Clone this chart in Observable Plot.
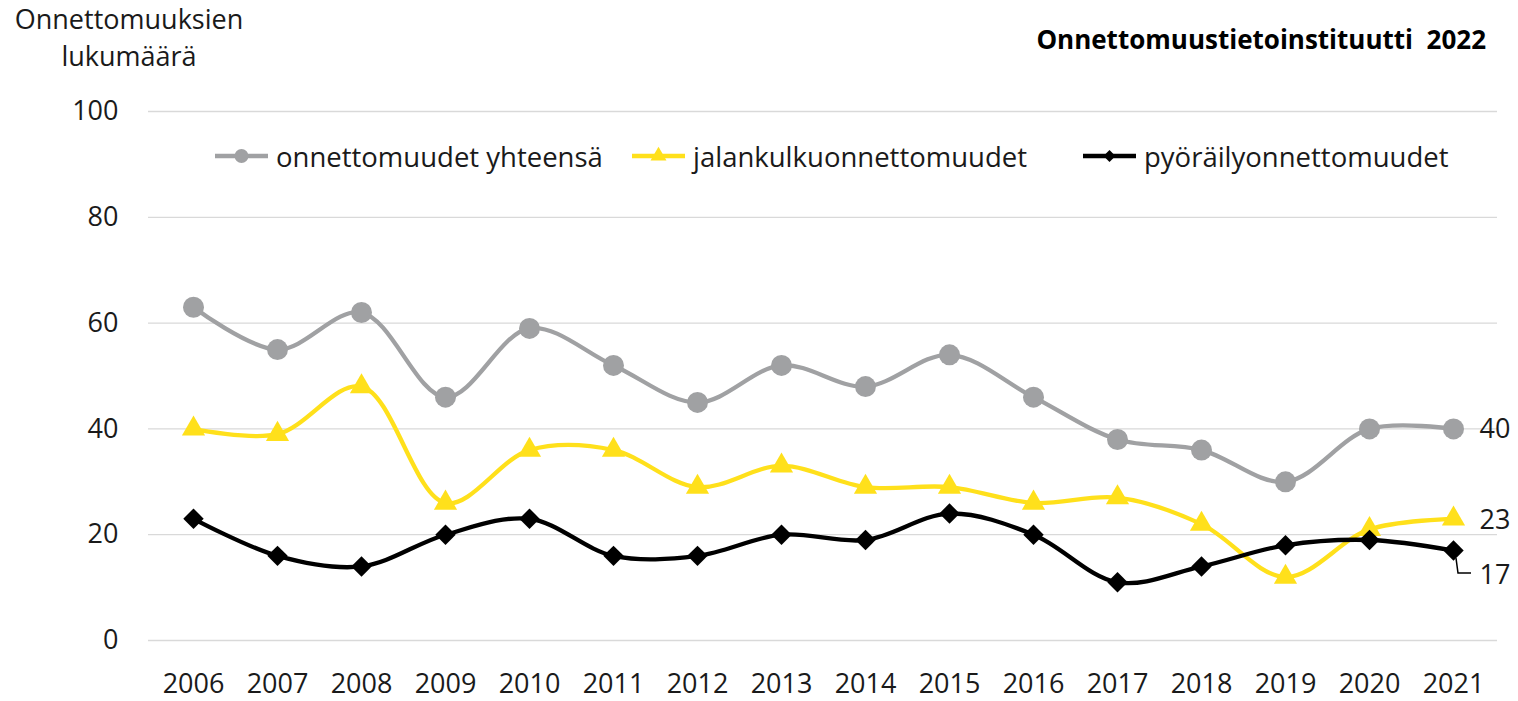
<!DOCTYPE html>
<html>
<head>
<meta charset="utf-8">
<script src="https://cdn.jsdelivr.net/npm/d3@7"></script>
<script src="https://cdn.jsdelivr.net/npm/@observablehq/plot@0.6"></script>
<style>
  html, body { margin: 0; padding: 0; background: #fff; }
  body { width: 1518px; height: 701px; position: relative; overflow: hidden; font-family: "Open Sans", sans-serif; }
  #chart { position: absolute; left: 0; top: 0; }
  .ytitle { position: absolute; left: 0; top: 0px; width: 258px; text-align: center; font-size: 27px; line-height: 37px; color: #1a1a1a; }
  .source { position: absolute; right: 32px; top: 21px; font-size: 26px; font-weight: bold; color: #000; white-space: pre; }
  .legend { position: absolute; top: 136px; left: 0; width: 1518px; height: 40px; }
  .legend .item { position: absolute; top: 0; height: 40px; display: flex; align-items: center; font-size: 27.5px; color: #1a1a1a; white-space: nowrap; }
  .legend svg { margin-right: 5px; }
</style>
</head>
<body>
<div id="chart"></div>
<div class="ytitle">Onnettomuuksien<br>lukumäärä</div>
<div class="source">Onnettomuustietoinstituutti  2022</div>
<div class="legend" id="legend"></div>
<script>
const years = [2006,2007,2008,2009,2010,2011,2012,2013,2014,2015,2016,2017,2018,2019,2020,2021];
const total = [63,55,62,46,59,52,45,52,48,54,46,38,36,30,40,40];
const pedestrian = [40,39,48,26,36,36,29,33,29,29,26,27,22,12,21,23];
const cycling = [23,16,14,20,23,16,16,20,19,24,20,11,14,18,19,17];
const yTicks = [0,20,40,60,80,100];

const seriesNames = ["onnettomuudet yhteensä", "jalankulkuonnettomuudet", "pyöräilyonnettomuudet"];
const seriesValues = [total, pedestrian, cycling];
const colors = ["#a0a1a3", "#ffe01b", "#000000"];
const symbols = ["circle", "triangle", "diamond2"];
const radii = [10.5, 8.6, 9.2];

const data = [];
seriesNames.forEach((name, i) => {
  years.forEach((y, j) => data.push({series: name, year: String(y), value: seriesValues[i][j]}));
});

const xDomain = years.map(String);
const lastYear = String(years[years.length - 1]);
const endTotal = [{year: lastYear, value: total[total.length-1]}];
const endPed = [{year: lastYear, value: pedestrian[pedestrian.length-1]}];
const endCyc = [{year: lastYear, value: cycling[cycling.length-1]}];

const marks = [
  Plot.gridY(yTicks, {stroke: "#d9d9d9", strokeOpacity: 1, strokeWidth: 1.3}),
  Plot.axisY(yTicks, {tickSize: 0, tickPadding: 30, fontSize: 27, fill: "#1a1a1a", label: null}),
  Plot.axisX(xDomain, {tickSize: 0, tickPadding: 33, fontSize: 27, fill: "#1a1a1a", label: null}),
];
seriesNames.forEach((name, i) => {
  const d = data.filter(r => r.series === name);
  marks.push(Plot.line(d, {x: "year", y: "value", stroke: colors[i], strokeWidth: 4.3, curve: "catmull-rom"}));
});
seriesNames.forEach((name, i) => {
  const d = data.filter(r => r.series === name);
  marks.push(Plot.dot(d, {x: "year", y: "value", fill: colors[i], symbol: () => symbols[i], r: radii[i], stroke: "none"}));
});
// leader line for the cycling end label, drawn relative to the last point
marks.push((index, scales) => {
  const x0 = scales.x(lastYear);
  const y0 = scales.y(endCyc[0].value);
  const p = document.createElementNS("http://www.w3.org/2000/svg", "path");
  p.setAttribute("d", `M${x0+3},${y0+8}L${x0+5},${y0+23}L${x0+18},${y0+23}`);
  p.setAttribute("fill", "none");
  p.setAttribute("stroke", "#000");
  p.setAttribute("stroke-width", "1.5");
  return p;
});
marks.push(Plot.text(endTotal, {x: "year", y: "value", text: d => String(d.value), dx: 26, textAnchor: "start", fontSize: 27, fill: "#1a1a1a"}));
marks.push(Plot.text(endPed, {x: "year", y: "value", text: d => String(d.value), dx: 26, dy: 2, textAnchor: "start", fontSize: 27, fill: "#1a1a1a"}));
marks.push(Plot.text(endCyc, {x: "year", y: "value", text: d => String(d.value), dx: 26, dy: 25, textAnchor: "start", fontSize: 27, fill: "#1a1a1a"}));

const plot = Plot.plot({
  width: 1518,
  height: 701,
  marginLeft: 148,
  marginRight: 21,
  marginTop: 111,
  marginBottom: 61,
  style: {fontFamily: "Open Sans, sans-serif", background: "transparent", overflow: "visible"},
  x: {type: "point", domain: xDomain, padding: 0.5, axis: null},
  y: {domain: [0, 100], axis: null},
  marks
});
document.getElementById("chart").appendChild(plot);

// legend
const legend = document.getElementById("legend");
const lefts = [215, 632, 1083];
seriesNames.forEach((name, i) => {
  const item = document.createElement("div");
  item.className = "item";
  item.style.left = lefts[i] + "px";
  const svg = d3.create("svg").attr("width", 56).attr("height", 40);
  svg.append("line").attr("x1", 0).attr("x2", 53).attr("y1", 20).attr("y2", 20).attr("stroke", colors[i]).attr("stroke-width", 4.5);
  const sym = {circle: d3.symbolCircle, triangle: d3.symbolTriangle, diamond2: d3.symbolDiamond2}[symbols[i]];
  const sz = [150, 110, 90][i];
  svg.append("path").attr("d", d3.symbol(sym, sz)()).attr("transform", "translate(26.5,20)").attr("fill", colors[i]);
  item.appendChild(svg.node());
  const span = document.createElement("span");
  span.textContent = name;
  item.appendChild(span);
  legend.appendChild(item);
});
</script>
</body>
</html>
